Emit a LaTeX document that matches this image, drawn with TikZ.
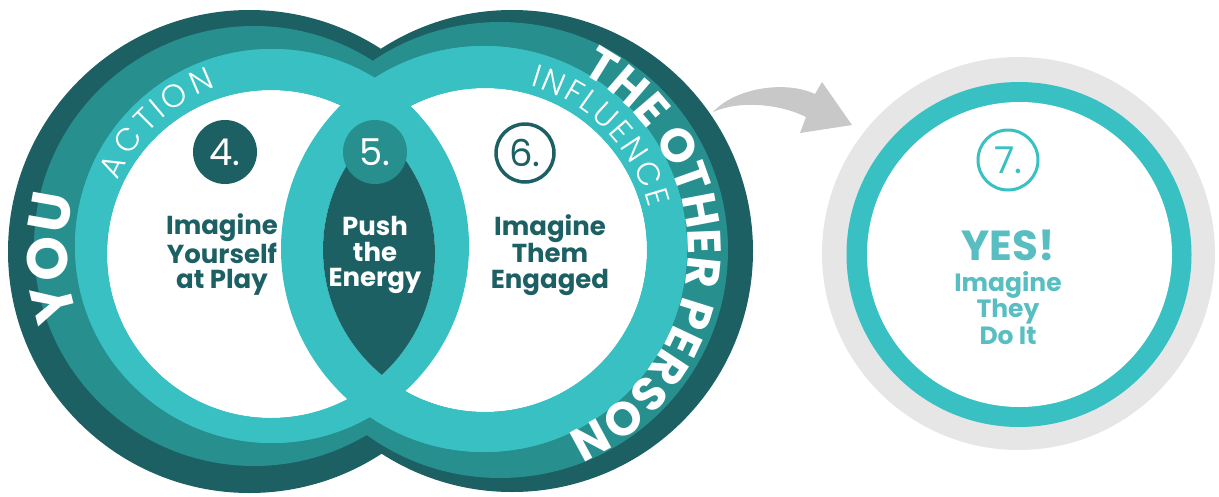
\documentclass[tikz,border=0pt]{standalone}
\usepackage{fontspec}
\setmainfont{Poppins}
\newfontfamily\lightfont{Poppins Light}
\usetikzlibrary{decorations.text}
\definecolor{tdark}{HTML}{1C6064}
\definecolor{tmed}{HTML}{278F8E}
\definecolor{tlight}{HTML}{38C0C3}
\definecolor{tgray}{HTML}{E6E6E6}
\definecolor{tarrow}{HTML}{C8C8C8}
\definecolor{ttext}{HTML}{58BEC1}
\begin{document}
\begin{tikzpicture}[x=1pt,y=1pt,
  lbl/.style={font=\bfseries\fontsize{26}{25.5}\selectfont, text=tdark, align=center, inner sep=0pt},
  numfill/.style={circle, minimum size=64pt, inner sep=0pt, font=\fontsize{37}{37}\selectfont, text=white},
  numring/.style={circle, minimum size=58pt, inner sep=0pt, line width=3.5pt, fill=white, font=\fontsize{37}{37}\selectfont},
  thintext/.style={decorate, decoration={text effects along path, text={#1}, text effects/.cd, text along path, fit text to path, characters={text=white, font=\lightfont\fontsize{32}{32}\selectfont}}}
]
\useasboundingbox (0,0) rectangle (1219,-496);

% ---- Venn layers (unions) ----
\fill[tdark] (249.5,-251.5) circle[radius=241.5pt] (512,-251) circle[radius=241pt];
\fill[tmed] (254,-246) circle[radius=220pt] (500,-250) circle[radius=228pt];
\fill[tlight] (272,-246) circle[radius=197pt] (484,-249) circle[radius=203pt];
\fill[white] (271,-254) circle[radius=164pt] (485,-250) circle[radius=162pt];
\fill[tlight, even odd rule] (272,-246) circle[radius=197pt] (271,-254) circle[radius=164pt];
\fill[tlight, even odd rule] (484,-249) circle[radius=203pt] (485,-250) circle[radius=162pt];
\begin{scope}
  \clip (271,-254) circle[radius=164pt];
  \fill[tdark] (485,-250) circle[radius=162pt];
\end{scope}

% ---- ring texts ----
\path[decorate, decoration={text along path, text={|\bfseries\fontsize{57}{57}\selectfont|YOU}, text color=white, text align=center}]
  ([shift={(202:198pt)}]265,-250) arc[start angle=202, end angle=162, radius=198pt];
\path[thintext=ACTION]
  ([shift={(157:168pt)}]272,-246) arc[start angle=157, end angle=109.5, radius=168pt];
\path[thintext=INFLUENCE]
  ([shift={(74:170pt)}]484,-249) arc[start angle=74, end angle=14, radius=170pt];
\path[decorate, decoration={text along path, text={|\bfseries\fontsize{47}{47}\selectfont|THE OTHER PERSON}, text color=white, text align=center}]
  ([shift={(64.5:200pt)}]488,-250) arc[start angle=64.5, end angle=-69, radius=200pt];

% ---- numbers ----
\node[numfill, fill=tdark] (n4) at (225,-152) {4.};
\node[numfill, fill=tmed] (n5) at (375,-152) {5.};
\node[numring, draw=tdark, text=tdark] (n6) at (525,-153) {6.};

% ---- labels ----
\node[lbl] (l4) at (222,-255) {Imagine\\Yourself\\at Play};
\node[lbl, text=white] (l5) at (375,-255) {Push\\the\\Energy};
\node[lbl] (l6) at (550,-255) {Imagine\\Them\\Engaged};

% ---- arrow ----
\fill[tarrow] (713,-112) .. controls (735,-88) and (785,-80) .. (815,-94) -- (822,-82) -- (852,-125) -- (800,-133) -- (806,-117) .. controls (780,-104) and (740,-100) .. (713,-112) -- cycle;

% ---- result circle ----
\fill[tgray] (1018.5,-253.5) circle[radius=196.5pt];
\fill[tlight] (1019,-254.5) circle[radius=172.5pt];
\fill[white] (1019.5,-254.5) circle[radius=152.5pt];
\node[numring, minimum size=60pt, line width=3pt, draw=tlight, text=tlight] (n7) at (1008,-160) {7.};
\node[font=\bfseries\fontsize{42}{42}\selectfont, text=ttext, inner sep=0pt] (yes) at (1008,-245) {YES!};
\node[lbl, text=ttext, font=\bfseries\fontsize{25}{26.5}\selectfont] (l7) at (1008,-308) {Imagine\\They\\Do It};
\end{tikzpicture}
\end{document}
